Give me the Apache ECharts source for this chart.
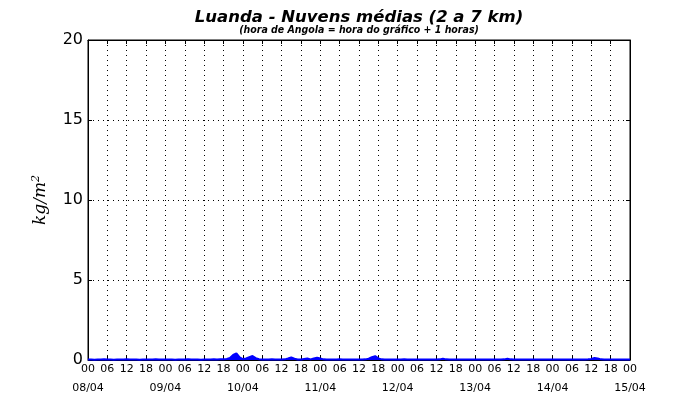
<!DOCTYPE html>
<html>
<head>
<meta charset="utf-8">
<script src="https://cdn.jsdelivr.net/npm/echarts@6/dist/echarts.min.js"></script>
<style>html,body{margin:0;padding:0;background:#fff}#c{width:700px;height:400px}</style>
</head>
<body>
<div id="c"></div>
<script>
// Hourly values (kg/m^2) from 08/04 00h to 15/04 00h
var day1 = [0.03,0.03,0.02,0.03,0.03,0.04,0.03,0.03,0.02,0.03,0.03,0.03,0.04,0.03,0.03,0.03,0.02,0.03,0.03,0.03,0.03,0.04,0.03,0.03];
var day2 = [0.03,0.03,0.03,0.02,0.03,0.03,0.03,0.04,0.03,0.03,0.03,0.02,0.03,0.03,0.03,0.04,0.03,0.04,0.05,0.06,0.12,0.32,0.42,0.16];
var day3 = [0.05,0.10,0.18,0.25,0.12,0.05,0.03,0.03,0.03,0.04,0.03,0.03,0.03,0.04,0.09,0.16,0.08,0.03,0.03,0.06,0.09,0.04,0.10,0.15];
var day4 = [0.09,0.04,0.03,0.03,0.03,0.03,0.04,0.03,0.03,0.03,0.03,0.03,0.03,0.03,0.04,0.08,0.18,0.24,0.10,0.04,0.03,0.03,0.03,0.03];
var day5 = [0.03,0.03,0.04,0.03,0.03,0.03,0.03,0.03,0.03,0.03,0.03,0.03,0.03,0.04,0.08,0.04,0.03,0.03,0.03,0.03,0.03,0.03,0.03,0.03];
var day6 = [0.03,0.03,0.03,0.03,0.03,0.03,0.03,0.03,0.03,0.04,0.08,0.04,0.03,0.03,0.03,0.03,0.03,0.03,0.03,0.03,0.03,0.03,0.03,0.03];
var day7 = [0.03,0.03,0.03,0.03,0.03,0.03,0.03,0.03,0.03,0.03,0.03,0.04,0.06,0.12,0.10,0.04,0.03,0.03,0.03,0.03,0.03,0.03,0.03,0.03];
var lastHour = [0.03];
var dateLabels = ['08/04','09/04','10/04','11/04','12/04','13/04','14/04','15/04'];
var yTicks = [0, 5, 10, 15, 20];

var values = [].concat(day1, day2, day3, day4, day5, day6, day7, lastHour);
var seriesData = values.map(function (v, i) { return [i, v]; });

var chart = echarts.init(document.getElementById('c'), null, {renderer: 'canvas'});
var F = 'DejaVu Sans';
chart.setOption({
  animation: false,
  backgroundColor: '#fff',
  title: {
    text: 'Luanda - Nuvens médias (2 a 7 km)',
    subtext: '(hora de Angola = hora do gráfico + 1 horas)',
    left: 354, textAlign: 'center', top: 4, itemGap: -1,
    textStyle: {fontFamily: F, fontSize: 16.5, fontWeight: 'bold', fontStyle: 'italic', color: '#000'},
    subtextStyle: {fontFamily: 'DejaVu Sans Condensed', fontSize: 10.5, fontWeight: 'bold', fontStyle: 'italic', color: '#000'}
  },
  grid: {left: 88, right: 70, top: 40, bottom: 40, show: true, borderColor: '#000', borderWidth: 1, backgroundColor: 'transparent'},
  xAxis: [
    {type: 'value', min: 0, max: 168, interval: 6, position: 'bottom',
     axisLine: {show: true, onZero: false, lineStyle: {color: '#000', width: 1}},
     axisTick: {show: true, inside: true, length: 4, lineStyle: {color: '#000'}},
     axisLabel: {fontFamily: F, fontSize: 11, color: '#000', margin: 4, showMinLabel: true, showMaxLabel: true,
       formatter: function (v) { var h = v % 24; return (h < 10 ? '0' : '') + h; }},
     splitLine: {show: true, lineStyle: {color: '#000', type: [1, 4], width: 1}}},
    {type: 'value', min: 0, max: 168, interval: 24, position: 'bottom', offset: 19,
     axisLine: {show: false, onZero: false}, axisTick: {show: false}, splitLine: {show: false},
     axisLabel: {fontFamily: F, fontSize: 11, color: '#000', margin: 4, showMinLabel: true, showMaxLabel: true,
       formatter: function (v) { return dateLabels[Math.round(v / 24)]; }}},
    {type: 'value', min: 0, max: 168, interval: 6, position: 'top',
     axisLine: {show: true, onZero: false, lineStyle: {color: '#000', width: 1}},
     axisTick: {show: true, inside: true, length: 4, lineStyle: {color: '#000'}},
     axisLabel: {show: false}, splitLine: {show: false}}
  ],
  yAxis: [
    {type: 'value', min: yTicks[0], max: yTicks[yTicks.length - 1], interval: 5, position: 'left',
     name: '{a|kg/m}{b|2}', nameLocation: 'middle', nameGap: 38, nameRotate: 90,
     nameTextStyle: {rich: {
       a: {fontFamily: 'DejaVu Serif', fontStyle: 'italic', fontSize: 17, color: '#000'},
       b: {fontFamily: 'DejaVu Serif', fontStyle: 'italic', fontSize: 11, color: '#000', verticalAlign: 'top', padding: [0, 0, 8, 0]}
     }},
     axisLine: {show: true, onZero: false, lineStyle: {color: '#000', width: 1}},
     axisTick: {show: true, inside: true, length: 4, lineStyle: {color: '#000'}},
     axisLabel: {fontFamily: F, fontSize: 16, color: '#000', margin: 5},
     splitLine: {show: true, lineStyle: {color: '#000', type: [1, 4], width: 1}}},
    {type: 'value', min: 0, max: 20, interval: 5, position: 'right',
     axisLine: {show: true, onZero: false, lineStyle: {color: '#000', width: 1}},
     axisTick: {show: true, inside: true, length: 4, lineStyle: {color: '#000'}},
     axisLabel: {show: false}, splitLine: {show: false}}
  ],
  series: [{
    type: 'line', xAxisIndex: 0, yAxisIndex: 0, data: seriesData,
    showSymbol: false, smooth: false,
    lineStyle: {color: '#0000ff', width: 2},
    areaStyle: {color: '#0000ff', opacity: 1},
    z: 3
  }]
});
</script>
</body>
</html>
